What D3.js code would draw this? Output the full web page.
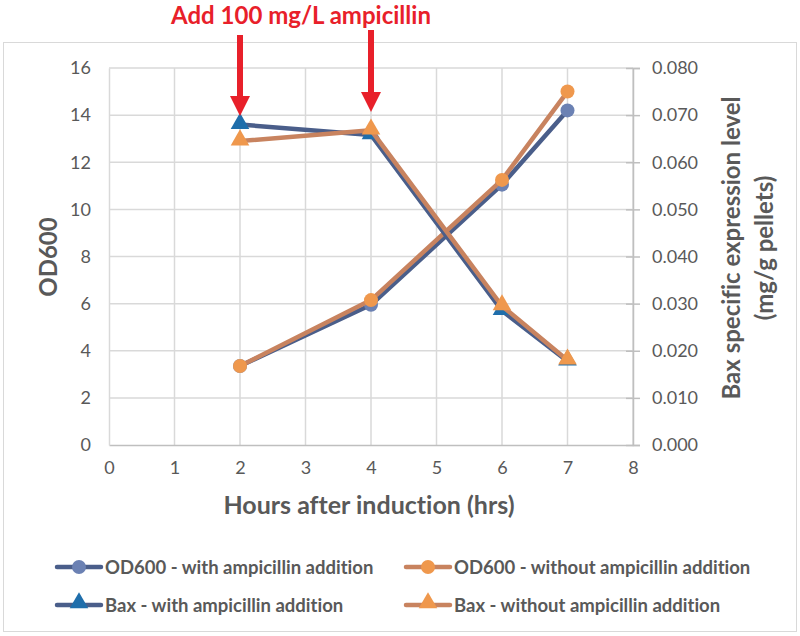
<!DOCTYPE html>
<html><head><meta charset="utf-8">
<script src="https://cdn.jsdelivr.net/npm/d3@7"></script>
<style>body{margin:0;background:#fff}svg{display:block}text{font-variant-ligatures:none;font-feature-settings:"liga" 0}</style>
</head><body>
<svg id="c" width="800" height="636"></svg>
<script>
const hours = [2, 4, 6, 7];
const odWith = [3.35, 5.95, 11.05, 14.2];
const odWithout = [3.35, 6.15, 11.25, 15.0];
const baxWith = [0.068, 0.0658, 0.0285, 0.0178];
const baxWithout = [0.0645, 0.0668, 0.0295, 0.018];
const xTicks = [0,1,2,3,4,5,6,7,8];
const yLeftTicks = [0,2,4,6,8,10,12,14,16];
const yRightTicks = [0,0.01,0.02,0.03,0.04,0.05,0.06,0.07,0.08];
const arrowHours = [2, 4];
const legendLabels = ["OD600 - with ampicillin addition","OD600 - without ampicillin addition","Bax - with ampicillin addition","Bax - without ampicillin addition"];

const FONT = "Lato, 'Open Sans', sans-serif";
const grey = "#595959";
const svg = d3.select("#c");
const x = d3.scaleLinear().domain([0,8]).range([109,633]);
const yL = d3.scaleLinear().domain([0,16]).range([445,68]);
const yR = d3.scaleLinear().domain([0,0.08]).range([445,68]);

// outer frame
svg.append("rect").attr("x",3.5).attr("y",42.5).attr("width",793).attr("height",589).attr("fill","none").attr("stroke","#d9d9d9").attr("stroke-width",1);

// grid
const g = svg.append("g");
g.selectAll(".vg").data(xTicks.slice(1)).join("line").attr("x1",d=>x(d)).attr("x2",d=>x(d)).attr("y1",68).attr("y2",445).attr("stroke","#d9d9d9").attr("stroke-width",1.5);
g.selectAll(".hg").data(yLeftTicks.slice(1)).join("line").attr("x1",109).attr("x2",633).attr("y1",d=>yL(d)).attr("y2",d=>yL(d)).attr("stroke","#d9d9d9").attr("stroke-width",1.5);

// axes
const ax = d3.axisBottom(x).tickValues(xTicks).tickSize(0).tickPadding(16);
const gx = svg.append("g").attr("transform","translate(0,445)").call(ax);
gx.select(".domain").attr("stroke","#bfbfbf").attr("stroke-width",1.5);
gx.selectAll("text").attr("font-family",FONT).attr("font-size",18).attr("fill",grey);

const aL = d3.axisLeft(yL).tickValues(yLeftTicks).tickSize(0).tickPadding(18);
const gl = svg.append("g").attr("transform","translate(109,0)").call(aL);
gl.select(".domain").attr("stroke","#d9d9d9").attr("stroke-width",1.5);
gl.selectAll("text").attr("font-family",FONT).attr("font-size",18).attr("fill",grey);

const aR = d3.axisRight(yR).tickValues(yRightTicks).tickSize(7).tickPadding(12).tickFormat(d3.format(".3f"));
const gr = svg.append("g").attr("transform","translate(633,0)").call(aR);
gr.select(".domain").attr("stroke","#bfbfbf").attr("stroke-width",1.5);
gr.selectAll("line").attr("stroke","#bfbfbf").attr("stroke-width",1.5).attr("x1",-7);
gr.selectAll("text").attr("font-family",FONT).attr("font-size",18).attr("fill",grey);

// axis titles
svg.append("text").attr("x",369).attr("y",514).attr("text-anchor","middle").attr("font-family",FONT).attr("font-weight","bold").attr("font-size",25).attr("fill",grey).text("Hours after induction (hrs)");
svg.append("text").attr("transform","translate(57,257) rotate(-90)").attr("text-anchor","middle").attr("font-family",FONT).attr("font-weight","bold").attr("font-size",24).attr("fill",grey).text("OD600");
svg.append("text").attr("transform","translate(740,248) rotate(-90)").attr("text-anchor","middle").attr("font-family",FONT).attr("font-weight","bold").attr("font-size",24).attr("fill",grey).text("Bax specific expression level");
svg.append("text").attr("transform","translate(773,248) rotate(-90)").attr("text-anchor","middle").attr("font-family",FONT).attr("font-weight","bold").attr("font-size",24).attr("fill",grey).text("(mg/g pellets)");

// series
const series = [
  {vals: odWith, y: yL, line:"#4a5e8a", mark:"#6b81b3", shape:"circle"},
  {vals: odWithout, y: yL, line:"#c8835f", mark:"#ef984d", shape:"circle"},
  {vals: baxWith, y: yR, line:"#4a5e8a", mark:"#1f6eab", shape:"triangle"},
  {vals: baxWithout, y: yR, line:"#c8835f", mark:"#ef984d", shape:"triangle"}
];
const tri = d3.symbol().type(d3.symbolTriangle).size(150);
series.forEach(s=>{
  const pts = hours.map((h,i)=>[x(h), s.y(s.vals[i])]);
  svg.append("path").attr("d",d3.line()(pts)).attr("fill","none").attr("stroke",s.line).attr("stroke-width",4.5).attr("stroke-linejoin","round");
  pts.forEach(p=>{
    if(s.shape==="circle") svg.append("circle").attr("cx",p[0]).attr("cy",p[1]).attr("r",7).attr("fill",s.mark);
    else svg.append("path").attr("d",tri()).attr("transform",`translate(${p[0]},${p[1]-1})`).attr("fill",s.mark);
  });
});

// legend
const leg = [
  {lx:57, ly:567, s:series[0]}, {lx:406, ly:567, s:series[1]},
  {lx:57, ly:605, s:series[2]}, {lx:406, ly:605, s:series[3]}
];
leg.forEach((l,i)=>{
  svg.append("line").attr("x1",l.lx).attr("x2",l.lx+44).attr("y1",l.ly).attr("y2",l.ly).attr("stroke",l.s.line).attr("stroke-width",4.5).attr("stroke-linecap","round");
  if(l.s.shape==="circle") svg.append("circle").attr("cx",l.lx+22).attr("cy",l.ly).attr("r",7).attr("fill",l.s.mark);
  else svg.append("path").attr("d",tri()).attr("transform",`translate(${l.lx+22},${l.ly-2})`).attr("fill",l.s.mark);
  svg.append("text").attr("x",l.lx+48).attr("y",l.ly+7).attr("font-family",FONT).attr("font-weight","bold").attr("font-size",18.5).attr("fill",grey).text(legendLabels[i]);
});

// annotation
svg.append("text").attr("x",301).attr("y",24).attr("text-anchor","middle").attr("font-family",FONT).attr("font-weight","bold").attr("font-size",24).attr("fill","#e8202a").text("Add 100 mg/L ampicillin");
const arrowTops = [35, 30];
const arrowTips = [116, 112];
arrowHours.forEach((h,i)=>{
  const cx = x(h);
  svg.append("line").attr("x1",cx).attr("x2",cx).attr("y1",arrowTops[i]).attr("y2",arrowTips[i]-18).attr("stroke","#e8202a").attr("stroke-width",6);
  svg.append("path").attr("d",`M${cx-10},${arrowTips[i]-20}L${cx+10},${arrowTips[i]-20}L${cx},${arrowTips[i]}Z`).attr("fill","#e8202a");
});
</script>
</body></html>
